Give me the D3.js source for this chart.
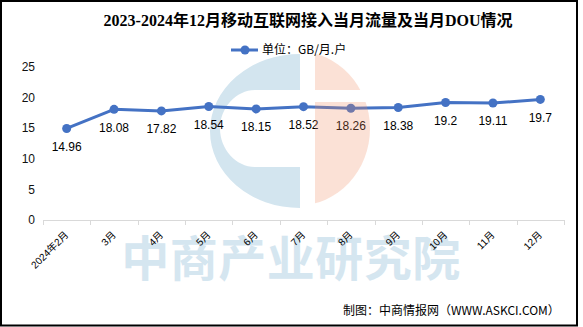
<!DOCTYPE html>
<html>
<head>
<meta charset="utf-8">
<script src="https://cdn.jsdelivr.net/npm/d3@7/dist/d3.min.js"></script>
<style>
html,body{margin:0;padding:0;background:#fff;}
svg{display:block;}
</style>
</head>
<body>
<script>
const categories = ["2024年2月","3月","4月","5月","6月","7月","8月","9月","10月","11月","12月"];
const values = [14.96,18.08,17.82,18.54,18.15,18.52,18.26,18.38,19.2,19.11,19.7];
const yTicks = [0,5,10,15,20,25];
const title = "2023-2024年12月移动互联网接入当月流量及当月DOU情况";
const legendLabel = "单位：GB/月.户";
const footer = "制图：中商情报网（WWW.ASKCI.COM）";
const watermark = "中商产业研究院";

const W = 583, H = 327;
const svg = d3.select("body").append("svg").attr("width", W).attr("height", H);
svg.append("rect").attr("width", W).attr("height", H).attr("fill", "#fff");

const x = d3.scaleBand().domain(categories).range([43, 564]);
const y = d3.scaleLinear().domain([0, 25]).range([220, 67]);

// watermark (under)
const wm = svg.append("g");
wm.append("path")
  .attr("d", "M300,54 A90,77 0 0 0 300,208 Z M300,90 L255,90 C236,90 220,108 220,128.5 C220,149 236,167 255,167 L300,167 Z")
  .attr("fill", "#d3e5ef").attr("fill-rule", "evenodd");
wm.append("text").attr("x", 291).attr("y", 276).attr("text-anchor", "middle")
  .attr("font-family", "Noto Sans CJK SC").attr("font-weight", "bold")
  .attr("font-size", 48).attr("letter-spacing", 0.5).attr("fill", "#d5e6f0").text(watermark);

// axis line & ticks
const axisG = svg.append("g");
axisG.append("line").attr("x1", 43).attr("x2", 564).attr("y1", 220.5).attr("y2", 220.5)
  .attr("stroke", "#d9d9d9").attr("stroke-width", 1);
const bounds = categories.map(c => x(c)).concat([x(categories[categories.length-1]) + x.bandwidth()]);
axisG.selectAll("line.t").data(bounds).join("line").attr("class","t")
  .attr("x1", d => Math.round(d)+0.5).attr("x2", d => Math.round(d)+0.5)
  .attr("y1", 220).attr("y2", 225).attr("stroke", "#d9d9d9");

// y labels
svg.append("g").selectAll("text").data(yTicks).join("text")
  .attr("x", 35).attr("y", d => y(d)).attr("dy", "0.35em").attr("text-anchor", "end")
  .attr("font-family", "Liberation Sans, Arial, sans-serif").attr("font-size", 12).attr("fill", "#111")
  .text(d => d);

// x labels
svg.append("g").selectAll("text").data(categories).join("text")
  .attr("transform", d => `translate(${x(d) + x.bandwidth()/2},233) rotate(-45)`)
  .attr("text-anchor", "end").attr("dy", "0.35em")
  .attr("font-family", "Liberation Sans, Noto Sans CJK SC, sans-serif").attr("font-size", 10).attr("fill", "#000")
  .text(d => d);

// line
const cx = d => x(d) + x.bandwidth()/2;
const line = d3.line().x((d, i) => cx(categories[i])).y(d => y(d));
svg.append("path").datum(values).attr("d", line).attr("fill", "none")
  .attr("stroke", "#4472c4").attr("stroke-width", 3).attr("stroke-linejoin", "round");
svg.append("g").selectAll("circle").data(values).join("circle")
  .attr("cx", (d, i) => cx(categories[i])).attr("cy", d => y(d)).attr("r", 4.5).attr("fill", "#4472c4");

// data labels
svg.append("g").selectAll("text").data(values).join("text")
  .attr("x", (d, i) => cx(categories[i])).attr("y", d => y(d) + 18).attr("dy", "0.35em")
  .attr("text-anchor", "middle").attr("font-family", "Liberation Sans, Arial, sans-serif")
  .attr("font-size", 12).attr("fill", "#000").text(d => d);

// watermark orange (over, translucent)
const defs = svg.append("defs");
defs.append("clipPath").attr("id", "oclip").append("path")
  .attr("d", "M315,40 L380,40 L380,90 L315,90 Z M315,102 L380,102 L380,220 L315,220 Z");
svg.append("ellipse").attr("cx", 298).attr("cy", 128.5).attr("rx", 72).attr("ry", 77)
  .attr("fill", "#f08a60").attr("fill-opacity", 0.26).attr("clip-path", "url(#oclip)");

// title
svg.append("text").attr("x", 308).attr("y", 20).attr("dy", "0.35em").attr("text-anchor", "middle")
  .attr("font-family", "Liberation Serif, Noto Sans CJK SC, serif").attr("font-weight", "bold")
  .attr("font-size", 16).attr("fill", "#000").text(title);

// legend
const lg = svg.append("g");
lg.append("line").attr("x1", 231).attr("x2", 258).attr("y1", 50).attr("y2", 50)
  .attr("stroke", "#4472c4").attr("stroke-width", 3);
lg.append("circle").attr("cx", 245).attr("cy", 50).attr("r", 4.5).attr("fill", "#4472c4");
lg.append("text").attr("x", 262).attr("y", 50).attr("dy", "0.35em")
  .attr("font-family", "Noto Sans CJK SC, sans-serif").attr("font-size", 12).attr("fill", "#000").text(legendLabel);

// footer
svg.append("text").attr("x", 343).attr("y", 311).attr("dy", "0.35em")
  .attr("font-family", "Noto Sans CJK SC, sans-serif").attr("font-size", 12).attr("fill", "#000").text(footer);

// border
svg.append("rect").attr("x", 1).attr("y", 1).attr("width", 576).attr("height", 324.5)
  .attr("fill", "none").attr("stroke", "#000").attr("stroke-width", 2);
</script>
</body>
</html>
